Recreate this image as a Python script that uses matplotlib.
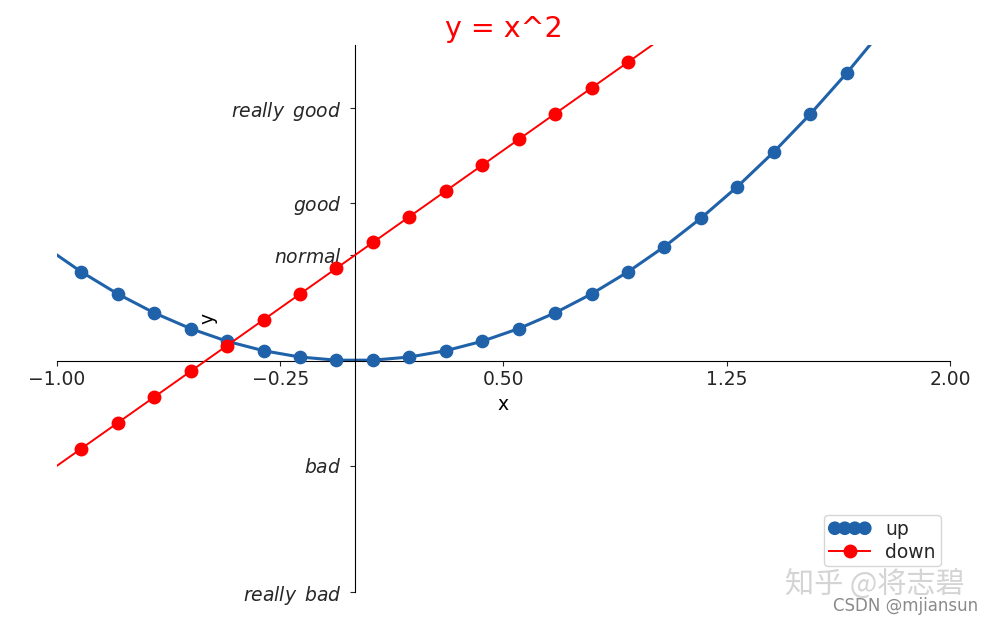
import matplotlib.pyplot as plt
import numpy as np

plt.rcParams['font.family'] = ['DejaVu Sans', 'Noto Sans CJK SC']
plt.rcParams['text.color'] = '#262626'
plt.rcParams['xtick.color'] = '#262626'
plt.rcParams['ytick.color'] = '#262626'

# data
x = np.linspace(-3, 3, 50)
y_up = x ** 2
y_down = 2 * x + 1

x_ticks = np.linspace(-1, 2, 5)
y_ticks = [-2.2, -1, 1, 1.5, 2.4]
y_labels = [r'$really\ \,bad$', r'$bad$', r'$normal$', r'$good$', r'$really\ \,good$']

blue = '#2062aa'
fs = 13.5

fig = plt.figure(figsize=(9.96, 6.22), dpi=100)
ax = fig.add_axes([0.0572, 0.0482, 0.8966, 0.8795])

ax.plot(x, y_up, color=blue, linewidth=2.2, zorder=2)
ax.scatter(x, y_up, s=78, color=blue, label='up', zorder=3)
ax.plot(x, y_down, color='red', linewidth=1.4, marker='o', markersize=9,
        label='down', zorder=4)

ax.set_xlim(-1, 2)
ax.set_ylim(-2.2, 3)
ax.set_xticks(x_ticks)
ax.set_yticks(y_ticks)
ax.set_yticklabels(y_labels)
ax.tick_params(labelsize=fs)
ax.tick_params(axis='y', pad=6)

ax.spines['top'].set_visible(False)
ax.spines['right'].set_visible(False)
ax.spines['bottom'].set_position(('data', 0))
ax.spines['left'].set_position(('data', 0))

ax.set_xlabel('x', fontsize=fs)
ax.set_ylabel('y', fontsize=fs, labelpad=10)
ax.set_title('y = x^2', color='red', fontsize=20.5)

ax.legend(loc='lower right', scatterpoints=4, scatteryoffsets=[0.5], numpoints=1,
          fontsize=fs, bbox_to_anchor=(1.0, 0.03), handlelength=2.2,
          labelspacing=0.2, borderpad=0.25)

# watermarks
fig.text(0.788, 0.045, '知乎 @将志碧', fontsize=21, color='#d4d4d4',
         family=['Noto Sans CJK SC', 'DejaVu Sans'])
fig.text(0.836, 0.018, 'CSDN @mjiansun', fontsize=12, color='#8a8a8a')

fig.savefig('out.png', dpi=100)
